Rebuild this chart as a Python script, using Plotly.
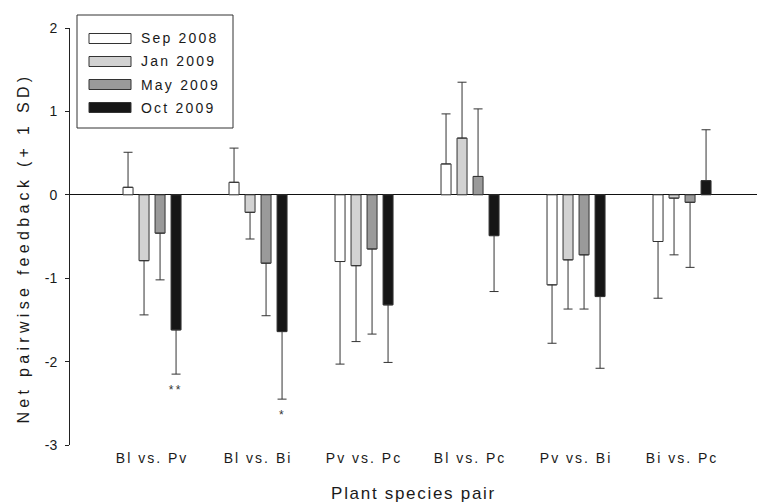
import plotly.graph_objects as go

# ---------------- data ----------------
categories = ["Bl vs. Pv", "Bl vs. Bi", "Pv vs. Pc", "Bl vs. Pc", "Pv vs. Bi", "Bi vs. Pc"]
series_names = ["Sep 2008", "Jan 2009", "May 2009", "Oct 2009"]

sep2008 = [0.09, 0.15, -0.80, 0.37, -1.08, -0.56]
sep2008_sd = [0.42, 0.41, 1.23, 0.60, 0.70, 0.68]
jan2009 = [-0.79, -0.21, -0.85, 0.68, -0.78, -0.04]
jan2009_sd = [0.65, 0.32, 0.91, 0.67, 0.59, 0.68]
may2009 = [-0.46, -0.82, -0.65, 0.22, -0.72, -0.09]
may2009_sd = [0.56, 0.63, 1.02, 0.81, 0.65, 0.78]
oct2009 = [-1.62, -1.64, -1.32, -0.49, -1.22, 0.17]
oct2009_sd = [0.53, 0.81, 0.69, 0.67, 0.86, 0.61]
oct2009_sig = ["**", "*", "", "", "", ""]

y_tickvals = [-3, -2, -1, 0, 1, 2]
y_ticktext = ["-3", "-2", "-1", "0", "1", "2"]

x_title = "Plant species pair"
y_title = "Net pairwise feedback (+ 1 SD)"

values = [sep2008, jan2009, may2009, oct2009]
sds = [sep2008_sd, jan2009_sd, may2009_sd, oct2009_sd]

# ---------------- style ----------------
fills = ["#ffffff", "#d2d2d2", "#9a9a9a", "#161616"]
edge = "#333333"
FONT = "Liberation Sans, Arial, sans-serif"
TXT = "#1a1a1a"

W, H = 758, 503
ML, MR, MT, MB = 70, 1, 28, 58
PW, PH = W - ML - MR, H - MT - MB
CAT_PX = 106.0          # pixel width of one category
X0 = -0.774             # axis start in category units


def pxx(px):
    return (px - ML) / PW


def pxy(py):
    return (H - MB - py) / PH


fig = go.Figure()
for name, v, sd, col in zip(series_names, values, sds, fills):
    plus = [s if val >= 0 else 0 for val, s in zip(v, sd)]
    minus = [s if val < 0 else 0 for val, s in zip(v, sd)]
    fig.add_trace(go.Bar(
        name=name, x=categories, y=v,
        marker=dict(color=col, line=dict(color=edge, width=1)),
        error_y=dict(type="data", symmetric=False, array=plus, arrayminus=minus,
                     color=edge, thickness=1, width=4.5),
        showlegend=False,
    ))

# significance stars below the Oct 2009 bars' error bars
n_series = len(series_names)
slot_px = CAT_PX * (1 - 0.396) / n_series
oct_offset = (n_series - 1 - (n_series - 1) / 2) * slot_px
for i, (v, sd, s) in enumerate(zip(oct2009, oct2009_sd, oct2009_sig)):
    if s:
        fig.add_annotation(x=i, y=v - sd, xref="x", yref="y", text=s, showarrow=False,
                           xshift=oct_offset, yshift=-16,
                           font=dict(family=FONT, size=12, color="#333"))

# manual legend (wide swatches as in the original)
shapes = [dict(type="rect", xref="paper", yref="paper",
               x0=pxx(77), x1=pxx(233), y0=pxy(128), y1=pxy(15),
               line=dict(color="#333", width=1), fillcolor="white", layer="above")]
leg_y = [38.5, 61.5, 84.5, 107.5]
for name, col, yy in zip(series_names, fills, leg_y):
    shapes.append(dict(type="rect", xref="paper", yref="paper",
                       x0=pxx(89), x1=pxx(131), y0=pxy(yy + 5), y1=pxy(yy - 5),
                       line=dict(color=edge, width=1), fillcolor=col, layer="above"))
    fig.add_annotation(x=pxx(139), y=pxy(yy), xref="paper", yref="paper", text=name,
                       showarrow=False, xanchor="left", yanchor="middle", align="left",
                       font=dict(family=FONT, size=14, color=TXT))

# y-axis title (placed as rotated text to match the original position)
fig.add_annotation(x=pxx(23), y=pxy(248), xref="paper", yref="paper", text=y_title,
                   textangle=-90, showarrow=False, xanchor="center", yanchor="middle",
                   font=dict(family=FONT, size=16, color=TXT))

fig.update_layout(
    width=W, height=H,
    margin=dict(l=ML, r=MR, t=MT, b=MB),
    paper_bgcolor="white", plot_bgcolor="white",
    barmode="group", bargap=0.396, bargroupgap=0.375,
    font=dict(family=FONT, color=TXT),
    shapes=shapes,
    showlegend=False,
)
fig.update_xaxes(
    range=[X0, X0 + PW / CAT_PX], showline=False, showgrid=False, zeroline=False,
    ticks="", tickfont=dict(family=FONT, size=14, color=TXT), ticklabelstandoff=3,
    title=dict(text=x_title, font=dict(family=FONT, size=17, color=TXT), standoff=26),
    automargin=False,
)
fig.update_yaxes(
    range=[-3, 2], tickvals=y_tickvals, ticktext=y_ticktext,
    showline=True, linecolor="#222", linewidth=1, mirror=False,
    ticks="outside", ticklen=4, tickcolor="#222", ticklabelstandoff=5,
    showgrid=False, zeroline=True, zerolinecolor="#111", zerolinewidth=1,
    tickfont=dict(family=FONT, size=14, color=TXT),
    automargin=False,
)

post = """
document.body.style.margin='0';
document.body.style.padding='0';
var gd=document.getElementById('{plot_id}');
function ls(){
  var set=function(sel,v){gd.querySelectorAll(sel).forEach(function(t){t.style.letterSpacing=v;});};
  set('.xtick text','2px');
  set('.g-xtitle text','1.7px');
  set('.annotation-text','2.2px');
  var anns=gd.querySelectorAll('.annotation-text');
  anns.forEach(function(t){ if(t.textContent.indexOf('feedback')>=0){ t.style.letterSpacing='4.3px'; } });
}
ls();
gd.on('plotly_afterplot', ls);
"""

fig.write_html("out.html", config={"displayModeBar": False}, post_script=post)
